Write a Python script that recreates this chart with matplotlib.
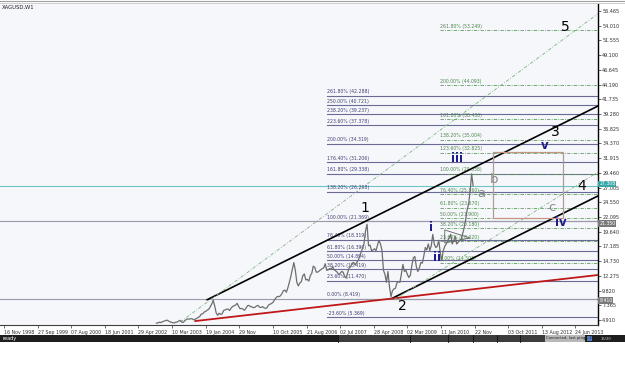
import numpy as np
import matplotlib.pyplot as plt
from matplotlib.patches import Rectangle, Polygon
from matplotlib.transforms import blended_transform_factory

# weekly bar index, bar 0 = 16 Nov 1998; closes sampled every 2 bars from bar 204
first_bar = 204
bar_step = 2
p2002 = [4.40, 4.42, 4.55, 4.48, 4.62, 4.72]
p2003 = [4.80, 4.90, 4.75, 4.62, 4.55, 4.45, 4.42, 4.55, 4.58, 4.75, 4.85, 4.55, 4.52,
         4.80, 5.00, 5.10, 5.05, 5.15, 5.10, 4.95, 5.05, 5.20, 5.35, 5.50, 5.90, 5.95]
p2004 = [6.25, 6.35, 6.55, 6.70, 7.10, 7.55, 8.20, 7.30, 6.10, 5.70, 6.05, 5.85, 5.95,
         6.50, 6.60, 6.70, 6.75, 6.50, 6.90, 7.15, 7.30, 7.40, 7.70, 7.20, 6.80, 6.85]
p2005 = [6.70, 6.55, 6.90, 7.30, 7.35, 7.15, 7.10, 6.95, 7.05, 7.25, 7.35, 7.05, 7.00,
         7.15, 6.95, 6.85, 6.95, 7.40, 7.55, 7.65, 7.85, 8.25, 8.60, 8.85, 8.80, 8.95]
p2006 = [9.30, 9.80, 9.90, 9.55, 10.30, 11.20, 12.20, 13.40, 14.50, 13.20, 11.20, 10.60, 11.10,
         11.30, 12.30, 12.60, 11.60, 11.70, 11.40, 12.30, 12.70, 13.90, 13.70, 12.90, 12.90, 13.10]
p2007 = [13.30, 13.50, 13.60, 14.30, 13.20, 13.30, 13.50, 13.40, 13.80, 13.30, 13.10, 12.90, 12.50,
         12.70, 13.00, 12.90, 12.20, 11.90, 12.80, 13.60, 13.80, 14.40, 14.50, 14.10, 14.50, 14.80]
p2008 = [15.5, 16.2, 16.9, 17.7, 19.8, 20.9, 17.3, 17.4, 16.5, 16.6, 16.8, 16.5, 17.4,
         18.2, 17.6, 16.5, 13.2, 12.5, 11.2, 13.0, 10.5, 8.8, 9.8, 10.1, 10.2, 11.1]
p2009 = [11.3, 11.2, 12.6, 14.2, 13.0, 13.2, 12.5, 12.0, 12.4, 14.0, 15.3, 15.5, 13.8,
         13.0, 13.6, 14.5, 14.4, 15.6, 17.0, 16.6, 17.6, 16.5, 17.3, 19.2, 17.6, 17.0]
p2010 = [17.2, 18.2, 16.2, 14.8, 16.5, 17.2, 17.6, 18.2, 18.6, 19.2, 17.6, 18.1, 18.9,
         17.6, 17.9, 18.2, 18.4, 19.3, 20.3, 21.6, 23.3, 24.3, 26.4, 29.3, 27.3]
prices = p2002 + p2003 + p2004 + p2005 + p2006 + p2007 + p2008 + p2009 + p2010

# fibonacci sets
fib_a_pct = [261.8, 250.0, 238.2, 223.6, 200.0, 176.4, 161.8, 138.2, 100.0, 76.4, 61.8, 50.0, 38.2, 23.6, 0.0, -23.6]
fib_a_val = [42.288, 40.721, 39.237, 37.378, 34.319, 31.206, 29.338, 26.298, 21.369, 18.319,
             16.390, 14.894, 13.419, 11.470, 8.419, 5.369]
fib_a_start = 432
fib_b_pct = [261.8, 200.0, 161.8, 138.2, 123.6, 100.0, 76.4, 61.8, 50.0, 38.2, 23.6, 0.0]
fib_b_val = [53.249, 44.093, 38.430, 35.004, 32.825, 29.338, 25.860, 23.670, 21.900, 20.180, 18.020, 14.503]
fib_b_start = 584

# horizontal price lines with axis tags
last_price = 27.308
hlines = [21.350, 8.410]

# trend lines (bar, price) -> (bar, price)
channel_up = [(272, 8.3), (795, 40.6)]
channel_low = [(520, 8.55), (795, 25.6)]
red_line = [(256, 4.74), (795, 12.42)]
green_a = [(236, 4.58), (795, 56.0)]
green_b = [(522, 8.3), (795, 29.6)]
triangle = [(590, 19.93), (624, 18.6), (590, 17.76)]
box_bars = (654, 748)
box_prices = (21.93, 32.94)

waves_big = [("5", 752, 53.8), ("3", 738, 36.3), ("4", 774, 27.3), ("1", 483, 23.6), ("2", 533, 7.25)]
waves_minor = [("iii", 606, 31.9), ("v", 724, 34.1), ("i", 572, 20.4), ("ii", 580, 15.3), ("iv", 745, 21.2)]
waves_abc = [("a", 639, 26.1), ("b", 656, 28.3), ("c", 733, 23.6)]

y_ticks = [4.910, 7.365, 9.820, 12.275, 14.730, 17.185, 19.640, 22.095, 24.550, 27.005, 29.460,
           31.915, 34.370, 36.825, 39.280, 41.735, 44.190, 46.645, 49.100, 51.555, 54.010, 56.465]
x_tick_bars = [0, 45, 90, 135, 180, 225, 270, 315, 360, 405, 450, 495, 540, 585, 630, 675, 720, 765]
x_tick_labels = ["16 Nov 1998", "27 Sep 1999", "07 Aug 2000", "18 Jun 2001", "29 Apr 2002",
                 "10 Mar 2003", "19 Jan 2004", "29 Nov", "10 Oct 2005", "21 Aug 2006",
                 "02 Jul 2007", "28 Apr 2008", "02 Mar 2009", "11 Jan 2010", "22 Nov",
                 "03 Oct 2011", "13 Aug 2012", "24 Jun 2013"]

W, H = 625, 390
fig = plt.figure(figsize=(W / 100, H / 100), dpi=100)
fig.patch.set_facecolor("white")
ax = fig.add_axes([0, 1 - 325 / H, 598 / W, (325 - 4) / H])
ax.set_facecolor("#f6f7fb")
ax.set_xlim(-5.4, 795.2)
ax.set_ylim(4.08, 57.63)

bars = first_bar + bar_step * np.arange(len(prices))
ax.plot(bars, prices, color="#6e6e6e", lw=0.9, zorder=5)

trans = blended_transform_factory(ax.transAxes, ax.transData)

# fib set A (slate)
for pct, val in zip(fib_a_pct, fib_a_val):
    ax.plot([fib_a_start, 795.2], [val, val], color="#6a6a96", lw=0.8, zorder=2)
    ax.text(fib_a_start, val + 0.25, f"{pct:.2f}% ({val:.3f})", fontsize=3.3,
            color="#3e3e70", ha="left", va="bottom", zorder=3)

# fib set B (green dash-dot)
for pct, val in zip(fib_b_pct, fib_b_val):
    ax.plot([fib_b_start, 795.2], [val, val], color="#5c9a5c", lw=0.6,
            ls=(0, (4, 1.5, 1, 1.5)), zorder=2)
    ax.text(fib_b_start, val + 0.25, f"{pct:.2f}% ({val:.3f})", fontsize=3.3,
            color="#4a864a", ha="left", va="bottom", zorder=3)

# full width lines
ax.axhline(last_price, color="#6cc4c4", lw=0.8, zorder=2)
for v in hlines:
    ax.axhline(v, color="#9a9aaa", lw=0.8, zorder=2)

# trend lines
for seg, col, lw, ls in [(channel_up, "black", 1.2, "-"), (channel_low, "black", 1.2, "-"),
                         (red_line, "#c01818", 1.3, "-"),
                         (green_a, "#7fb07f", 0.6, (0, (4, 2, 1, 2))),
                         (green_b, "#7fb07f", 0.6, (0, (4, 2, 1, 2)))]:
    (x0, y0), (x1, y1) = seg
    ax.plot([x0, x1], [y0, y1], color=col, lw=lw, ls=ls, zorder=4)

ax.add_patch(Polygon(triangle, closed=True, fill=False, edgecolor="#606060", lw=0.6, zorder=4))
ax.add_patch(Rectangle((box_bars[0], box_prices[0]), box_bars[1] - box_bars[0],
                       box_prices[1] - box_prices[0], fill=False, edgecolor="#c49484", lw=0.9, zorder=4))

for t, b, p in waves_big:
    ax.text(b, p, t, fontsize=10, color="black", ha="center", va="center", zorder=6)
for t, b, p in waves_minor:
    ax.text(b, p, t, fontsize=8.5, color="#1c1c8c", ha="center", va="center",
            fontweight="bold", zorder=6)
for t, b, p in waves_abc:
    ax.text(b, p, t, fontsize=9.5, color="#8a8a8a", ha="center", va="center", zorder=6)

# axes styling
for s in ["left", "top"]:
    ax.spines[s].set_visible(False)
ax.spines["right"].set_color("black")
ax.spines["right"].set_linewidth(1.0)
ax.spines["bottom"].set_color("#404040")
ax.spines["bottom"].set_linewidth(0.8)
ax.yaxis.tick_right()
ax.set_yticks(y_ticks)
ax.set_yticklabels([f"{v:.3f}" for v in y_ticks])
ax.tick_params(axis="y", labelsize=3.5, length=2, width=0.5, pad=1, colors="#303030")
ax.set_xticks(x_tick_bars)
ax.set_xticklabels(x_tick_labels)
ax.tick_params(axis="x", labelsize=3.4, length=2, width=0.5, pad=1.5, colors="#303030")
for lbl in ax.get_xticklabels():
    lbl.set_ha("left")

# price tags on the axis
ax.text(1.002, last_price + 0.3, "27.308", transform=trans, fontsize=3.3, color="white", ha="left",
        va="center", bbox=dict(boxstyle="square,pad=0.2", fc="#3aa6a6", ec="none"), zorder=7, clip_on=False)
for v in hlines:
    ax.text(1.002, v - 0.3, f"{v:.3f}", transform=trans, fontsize=3.3, color="white", ha="left",
            va="center", bbox=dict(boxstyle="square,pad=0.2", fc="#7a7a7a", ec="none"), zorder=7, clip_on=False)

# header
fig.add_artist(plt.Line2D([0, 1], [1 - 1 / H, 1 - 1 / H], color="#a0a0a0", lw=0.8))
fig.add_artist(plt.Line2D([0, 1], [1 - 3 / H, 1 - 3 / H], color="#c8c8c8", lw=0.6))
fig.text(2 / W, 1 - 7 / H, "XAGUSD,W1", fontsize=3.8, color="#202020", ha="left", va="center")

# status bar
fig.add_artist(Rectangle((0, 1 - 342 / H), 1, 7 / H, transform=fig.transFigure,
                         fc="#1e1e1e", ec="none"))
fig.add_artist(Rectangle((338 / W, 1 - 342 / H), 207 / W, 7 / H, transform=fig.transFigure,
                         fc="#3c3c3c", ec="none"))
for xd in [338, 410, 448, 473, 497, 520]:
    fig.add_artist(plt.Line2D([xd / W, xd / W], [1 - 342 / H, 1 - 335 / H], color="#111111", lw=0.6))
fig.add_artist(Rectangle((545 / W, 1 - 342 / H), 40 / W, 7 / H, transform=fig.transFigure,
                         fc="#b8b8b8", ec="none"))
fig.add_artist(Rectangle((587 / W, 1 - 341 / H), 5 / W, 5 / H, transform=fig.transFigure,
                         fc="#4a78c8", ec="none"))
fig.text(3 / W, 1 - 338.5 / H, "ready", fontsize=3.6, color="white", ha="left", va="center")
fig.text(546 / W, 1 - 338.5 / H, "Connected, last ping - 78", fontsize=2.7, color="#202020",
         ha="left", va="center")
fig.text(601 / W, 1 - 338.5 / H, "15/20", fontsize=2.7, color="#d0d0d0", ha="left", va="center")

fig.savefig("out.png", dpi=100)
